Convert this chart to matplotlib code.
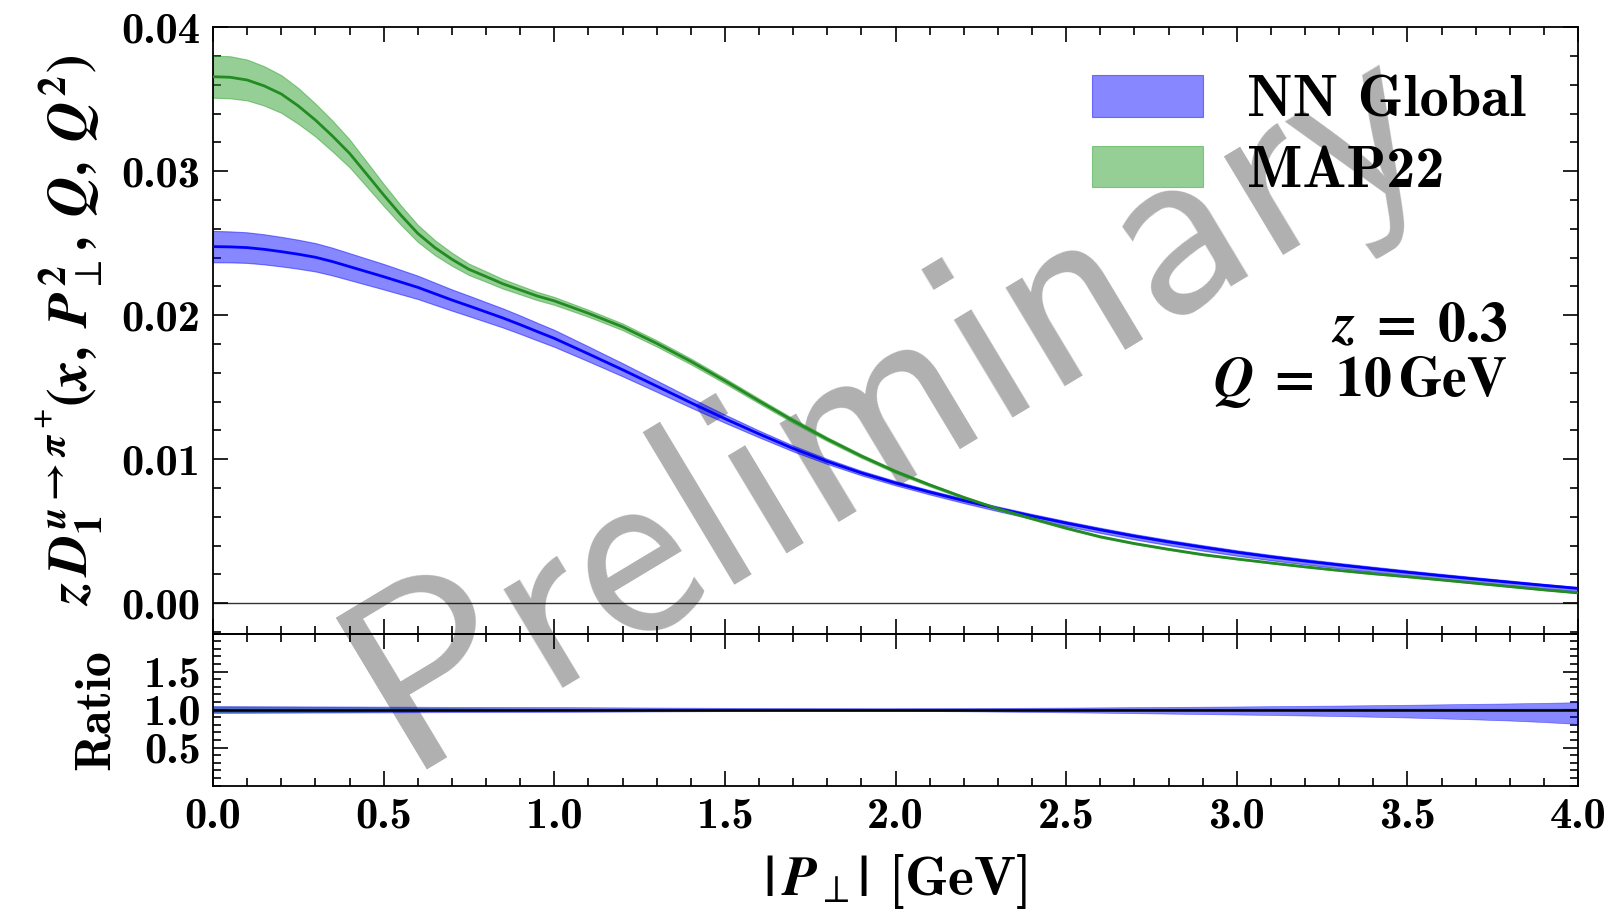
import numpy as np
import matplotlib
matplotlib.use("Agg")
import matplotlib.pyplot as plt
from matplotlib.ticker import MultipleLocator, FormatStrFormatter

plt.rcParams['font.family'] = ['cmb10', 'DejaVu Serif']
plt.rcParams['mathtext.fontset'] = 'custom'
plt.rcParams['mathtext.rm'] = 'STIXGeneral:bold'
plt.rcParams['mathtext.bf'] = 'STIXGeneral:bold'
plt.rcParams['mathtext.it'] = 'STIXGeneral:italic:bold'
plt.rcParams['axes.unicode_minus'] = False

# |P_perp| grid [GeV]
pt = [0.0, 0.05, 0.1, 0.15, 0.2, 0.25, 0.3, 0.35, 0.4, 0.45, 0.5,
      0.55, 0.6, 0.65, 0.7, 0.75, 0.8, 0.85, 0.9, 0.95, 1.0,
      1.1, 1.2, 1.3, 1.4, 1.5, 1.6, 1.7, 1.8, 1.9, 2.0,
      2.1, 2.2, 2.3, 2.4, 2.5, 2.6, 2.7, 2.8, 2.9, 3.0,
      3.1, 3.2, 3.3, 3.4, 3.5, 3.6, 3.7, 3.8, 3.9, 4.0]

# NN Global central value and relative band (up / down)
nn_mid = [0.02477, 0.02475, 0.02470, 0.02458, 0.02442, 0.02424, 0.02403, 0.02373, 0.02338, 0.02303, 0.02268,
          0.02231, 0.02194, 0.02150, 0.02106, 0.02065, 0.02023, 0.01981, 0.01935, 0.01887, 0.01840,
          0.01732, 0.01622, 0.01508, 0.01393, 0.01282, 0.01176, 0.01075, 0.00985, 0.00905, 0.00835,
          0.00772, 0.00713, 0.00658, 0.00606, 0.00557, 0.00510, 0.00466, 0.00426, 0.00389, 0.00354,
          0.00322, 0.00293, 0.00266, 0.00240, 0.00215, 0.00191, 0.00168, 0.00146, 0.00124, 0.00103]
nn_up = [.044, .0435, .043, .0425, .042, .0415, .041, .0405, .040, .0395, .039,
         .038, .037, .036, .035, .0345, .034, .0335, .033, .0325, .032,
         .030, .028, .026, .024, .022, .020, .019, .018, .017, .017,
         .018, .019, .021, .023, .025, .028, .031, .034, .037, .040,
         .044, .048, .052, .057, .062, .068, .074, .080, .087, .096]
nn_dn = [.044, .0435, .043, .0425, .042, .0415, .041, .0405, .040, .0395, .039,
         .038, .037, .036, .035, .0345, .034, .0335, .033, .0325, .032,
         .030, .028, .026, .024, .022, .020, .019, .018, .018, .019,
         .021, .024, .028, .032, .037, .042, .048, .054, .060, .066,
         .072, .079, .086, .095, .105, .117, .130, .145, .165, .190]

# MAP22 central value and relative band
map_mid = [0.03657, 0.03653, 0.03634, 0.03593, 0.03537, 0.03454, 0.03356, 0.03245, 0.03125, 0.02981, 0.02836,
           0.02697, 0.02569, 0.02470, 0.02389, 0.02319, 0.02269, 0.02218, 0.02176, 0.02134, 0.02100,
           0.02014, 0.01920, 0.01805, 0.01680, 0.01545, 0.01405, 0.01268, 0.01140, 0.01022, 0.00915,
           0.00822, 0.00735, 0.00656, 0.00588, 0.00522, 0.00462, 0.00415, 0.00375, 0.00338, 0.00308,
           0.00280, 0.00253, 0.00228, 0.00205, 0.00184, 0.00162, 0.00139, 0.00116, 0.00093, 0.00072]
map_err = [.040, .040, .039, .038, .037, .036, .034, .033, .031, .029, .027,
           .025, .023, .021, .019, .017, .016, .015, .014, .0135, .013,
           .012, .012, .012, .012, .012, .012, .012, .012, .012, .012,
           .012, .012, .012, .012, .012, .012, .012, .012, .012, .012,
           .012, .012, .012, .012, .012, .012, .012, .012, .012, .012]

pt = np.array(pt)
nn_mid = np.array(nn_mid); nn_up = np.array(nn_up); nn_dn = np.array(nn_dn)
map_mid = np.array(map_mid); map_err = np.array(map_err)

c_nn = 'blue'
c_map = '#2ca02c'
c_map_line = 'forestgreen'

fig = plt.figure(figsize=(16.1, 9.14), dpi=100)
W, H = 1610, 914
x0, x1 = 213, 1578
ax = fig.add_axes([x0/W, 1-633.5/H, (x1-x0)/W, (633.5-27.3)/H])
axr = fig.add_axes([x0/W, 1-785.5/H, (x1-x0)/W, (785.5-633.5)/H], sharex=ax)
for a in (ax, axr):
    a.patch.set_alpha(0)

# main panel
ax.fill_between(pt, nn_mid*(1-nn_dn), nn_mid*(1+nn_up), color=c_nn, alpha=0.47, lw=0.8,
                label='NN Global', zorder=2)
ax.plot(pt, nn_mid, color=c_nn, lw=2, zorder=3)
ax.fill_between(pt, map_mid*(1-map_err), map_mid*(1+map_err), color=c_map, alpha=0.5, lw=0.8,
                label='MAP22', zorder=2)
ax.plot(pt, map_mid, color=c_map_line, lw=2, zorder=3)
ax.axhline(0, color='k', lw=1, alpha=0.8, zorder=1)

ax.set_xlim(0, 4)
ax.set_ylim(-0.0021, 0.04)
ax.yaxis.set_major_locator(MultipleLocator(0.01))
ax.yaxis.set_minor_locator(MultipleLocator(0.002))
ax.yaxis.set_major_formatter(FormatStrFormatter('%.2f'))
ax.set_ylabel(r'$z\,D_1^{u\to\pi^+}\!(x,\;P_\perp^2,\;Q,\;Q^2)$', fontsize=40, labelpad=12)
ax.tick_params(labelbottom=False)

leg = ax.legend(loc='upper right', bbox_to_anchor=(1.0, 1.008), frameon=False, fontsize=42,
                handlelength=1.9, handleheight=0.72, labelspacing=0.3, handletextpad=0.75)

ax.text(0.948, 0.505, r'$z\;=\;0.3$', transform=ax.transAxes, ha='right', va='center', fontsize=40)
ax.text(0.948, 0.415, r'$Q\;=\;10\,\mathrm{GeV}$', transform=ax.transAxes, ha='right', va='center',
        fontsize=40)

# ratio panel
axr.fill_between(pt, 1-map_err, 1+map_err, color=c_map, alpha=0.5, lw=0.5, zorder=2)
axr.fill_between(pt, 1-nn_dn, 1+nn_up, color=c_nn, alpha=0.47, lw=0.5, zorder=2)
axr.axhline(1.0, color='k', lw=1.8, zorder=3)
axr.set_ylim(0, 2)
axr.set_yticks([0.5, 1.0, 1.5])
axr.yaxis.set_minor_locator(MultipleLocator(0.1))
axr.yaxis.set_major_formatter(FormatStrFormatter('%.1f'))
axr.xaxis.set_major_locator(MultipleLocator(0.5))
axr.xaxis.set_minor_locator(MultipleLocator(0.1))
axr.xaxis.set_major_formatter(FormatStrFormatter('%.1f'))
axr.set_ylabel('Ratio', fontsize=36, labelpad=18)
axr.set_xlabel(r'$|\,P_\perp|$ [GeV]', fontsize=40, labelpad=11)

for a in (ax, axr):
    a.tick_params(which='both', direction='in', top=True, right=True, labelsize=32, width=1.2)
    a.tick_params(which='major', length=11, pad=9)
    a.tick_params(which='minor', length=5.5)
    for s in a.spines.values():
        s.set_linewidth(1.3)

fig.text(0.552, 0.558, 'Preliminary', rotation=31, fontsize=184, color='#b0b0b0',
         family='cmss10', ha='center', va='center', zorder=-1)

fig.savefig('out.png', dpi=100)
